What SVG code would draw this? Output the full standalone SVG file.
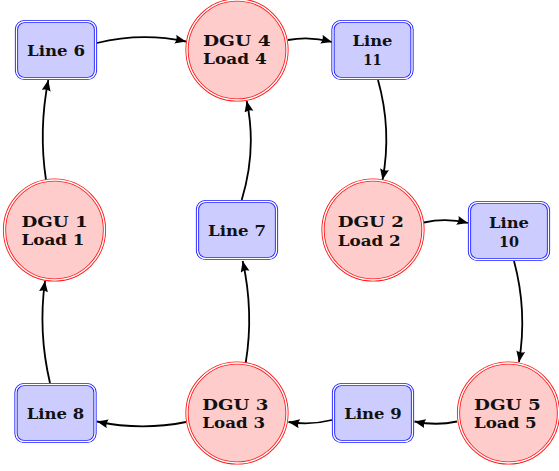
<svg xmlns="http://www.w3.org/2000/svg" width="559" height="471" viewBox="0 0 559 471">
  <defs>
    <marker id="arrow" markerUnits="userSpaceOnUse" markerWidth="13" markerHeight="11" refX="11" refY="4.5" orient="auto">
      <path d="M0,0 Q2.5,4.5 0,9 L11,4.5 Z" fill="#000"/>
    </marker>
    <style>
      .line-box { fill: #ccccff; }
      .line-box-outer { fill: none; stroke: #1a1aff; stroke-width: 3.2; }
      .line-box-inner { fill: none; stroke: #ffffff; stroke-width: 1.4; }
      .dgu { fill: #ffcccc; }
      .dgu-outer { fill: none; stroke: #ff1a1a; stroke-width: 3.2; }
      .dgu-inner { fill: none; stroke: #ffffff; stroke-width: 1.4; }
      text { font-family: "DejaVu Serif", "Liberation Serif", serif; font-weight: bold; font-size: 15px; fill: #111111; }
      .c { text-anchor: middle; }
      .edge { fill: none; stroke: #000; stroke-width: 1.8; marker-end: url(#arrow); }
    </style>
    <rect id="box" x="-39.5" y="-28.5" width="79" height="57" rx="8" ry="8"/>
    <circle id="disc" r="50"/>
  </defs>

  <!-- connectors -->
  <g id="connectors">
    <path class="edge" d="M97,43 Q141.5,32 186,41.5"/>
    <path class="edge" d="M288,40 Q310,36 332,42"/>
    <path class="edge" d="M378,80 Q392,130 382.5,180"/>
    <path class="edge" d="M424,222.5 Q446,217.5 468,223"/>
    <path class="edge" d="M514,261 Q527.5,311 519,362"/>
    <path class="edge" d="M457,421.5 Q436,426 414.5,421.5"/>
    <path class="edge" d="M332,420 Q310,425.5 288.5,422"/>
    <path class="edge" d="M186,422 Q141.5,431 97,421.5"/>
    <path class="edge" d="M50,383 Q38,332 45,281"/>
    <path class="edge" d="M46,180 Q38.5,130 48.3,80"/>
    <path class="edge" d="M245.7,363 Q254,312 242.7,261"/>
    <path class="edge" d="M241.7,200 Q257,150 246.7,101"/>
  </g>

  <!-- line nodes -->
  <g id="line6" transform="translate(56,50)">
    <use href="#box" class="line-box"/><use href="#box" class="line-box-outer"/><use href="#box" class="line-box-inner"/>
    <text class="c" x="0" y="6" textLength="58" lengthAdjust="spacingAndGlyphs">Line 6</text>
  </g>
  <g id="line11" transform="translate(372.5,50)">
    <use href="#box" class="line-box"/><use href="#box" class="line-box-outer"/><use href="#box" class="line-box-inner"/>
    <text class="c" x="0" y="-4" textLength="40" lengthAdjust="spacingAndGlyphs">Line</text>
    <text class="c" x="0" y="14.5" textLength="18.4" lengthAdjust="spacingAndGlyphs">11</text>
  </g>
  <g id="line7" transform="translate(237,230)">
    <use href="#box" class="line-box"/><use href="#box" class="line-box-outer"/><use href="#box" class="line-box-inner"/>
    <text class="c" x="0" y="6" textLength="58" lengthAdjust="spacingAndGlyphs">Line 7</text>
  </g>
  <g id="line10" transform="translate(509,231)">
    <use href="#box" class="line-box"/><use href="#box" class="line-box-outer"/><use href="#box" class="line-box-inner"/>
    <text class="c" x="0" y="-3" textLength="40" lengthAdjust="spacingAndGlyphs">Line</text>
    <text class="c" x="0" y="15.5" textLength="20" lengthAdjust="spacingAndGlyphs">10</text>
  </g>
  <g id="line8" transform="translate(55.5,413)">
    <use href="#box" class="line-box"/><use href="#box" class="line-box-outer"/><use href="#box" class="line-box-inner"/>
    <text class="c" x="0" y="6" textLength="57.6" lengthAdjust="spacingAndGlyphs">Line 8</text>
  </g>
  <g id="line9" transform="translate(373,413)">
    <use href="#box" class="line-box"/><use href="#box" class="line-box-outer"/><use href="#box" class="line-box-inner"/>
    <text class="c" x="0" y="6" textLength="57.4" lengthAdjust="spacingAndGlyphs">Line 9</text>
  </g>

  <!-- DGU / load nodes -->
  <g id="dgu4" transform="translate(237,50)">
    <use href="#disc" class="dgu"/><use href="#disc" class="dgu-outer"/><use href="#disc" class="dgu-inner"/>
    <text x="-34" y="-4.5" textLength="67.6" lengthAdjust="spacingAndGlyphs">DGU 4</text>
    <text x="-34" y="14.3" textLength="63.7" lengthAdjust="spacingAndGlyphs">Load 4</text>
  </g>
  <g id="dgu1" transform="translate(54.5,230)">
    <use href="#disc" class="dgu"/><use href="#disc" class="dgu-outer"/><use href="#disc" class="dgu-inner"/>
    <text x="-33" y="-3.5" textLength="66.3" lengthAdjust="spacingAndGlyphs">DGU 1</text>
    <text x="-33" y="15" textLength="63" lengthAdjust="spacingAndGlyphs">Load 1</text>
  </g>
  <g id="dgu2" transform="translate(373,230)">
    <use href="#disc" class="dgu"/><use href="#disc" class="dgu-outer"/><use href="#disc" class="dgu-inner"/>
    <text x="-35.3" y="-3" textLength="66.3" lengthAdjust="spacingAndGlyphs">DGU 2</text>
    <text x="-35.3" y="15.5" textLength="63" lengthAdjust="spacingAndGlyphs">Load 2</text>
  </g>
  <g id="dgu3" transform="translate(237,413)">
    <use href="#disc" class="dgu"/><use href="#disc" class="dgu-outer"/><use href="#disc" class="dgu-inner"/>
    <text x="-34.7" y="-3.5" textLength="66" lengthAdjust="spacingAndGlyphs">DGU 3</text>
    <text x="-34.7" y="15" textLength="62.7" lengthAdjust="spacingAndGlyphs">Load 3</text>
  </g>
  <g id="dgu5" transform="translate(508.5,413)">
    <use href="#disc" class="dgu"/><use href="#disc" class="dgu-outer"/><use href="#disc" class="dgu-inner"/>
    <text x="-34.5" y="-3.5" textLength="66.7" lengthAdjust="spacingAndGlyphs">DGU 5</text>
    <text x="-34.5" y="15" textLength="62.7" lengthAdjust="spacingAndGlyphs">Load 5</text>
  </g>
</svg>
